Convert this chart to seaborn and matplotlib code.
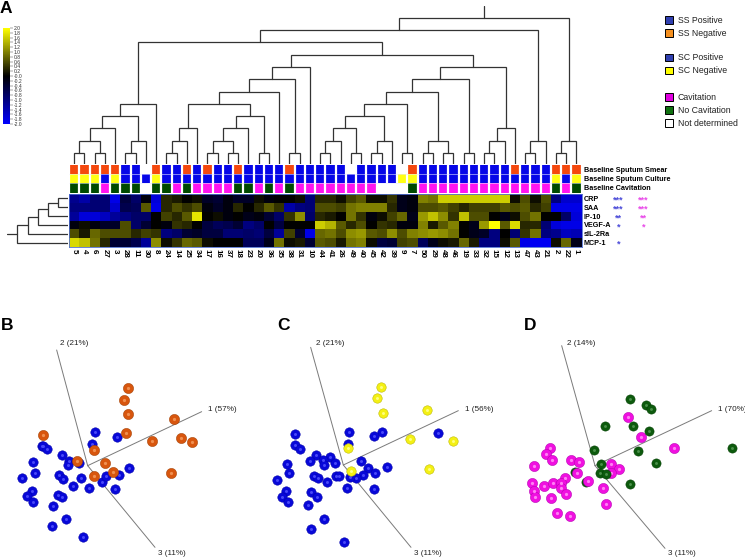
import numpy as np
import pandas as pd
import matplotlib
matplotlib.use('Agg')
import matplotlib.pyplot as plt
from matplotlib.colors import ListedColormap
from matplotlib.patches import Patch
import seaborn as sns

W, H = 745, 558

sample_ids = [5, 4, 6, 27, 3, 28, 11, 30, 8, 24, 14, 25, 34, 17, 16, 37, 18, 23, 20, 36,
              35, 38, 31, 10, 44, 41, 26, 49, 40, 45, 42, 39, 9, 7, 50, 29, 48, 46, 19, 33,
              32, 15, 12, 13, 47, 43, 21, 2, 22, 1]
markers = ['CRP', 'SAA', 'IP-10', 'VEGF-A', 'sIL-2Ra', 'MCP-1']

crp = [-1.1, -1.3, -.9, -.9, -1.8, -.5, -.8, -.1, -1.7, .3, .2, 0, .1, -.3, -.4, -.1, -.3, -.3, .1, -.1,
       0, 0, .1, -.9, .3, .3, .1, .5, .7, .1, .1, .4, -.2, -.1, 1, .9, 1.6, 1.6, 1.6, 1.6,
       1.6, 1.6, 1.6, .1, .6, .1, .6, -1, -1.6, -1.6]
saa = [-1, -1, -.9, -.9, -1.6, -.6, -.7, .7, -1.8, .3, .6, .4, .6, -.1, -.3, -.1, .3, 0, .3, .7,
       .4, -1.3, -1, -.9, .6, .6, .5, .9, 1, 1, 1, .3, -.2, -.1, .6, .6, .7, .5, .3, .5,
       .5, .5, .7, .6, .7, .3, .5, -1.8, -1.8, -1.8]
ip10 = [-1.2, -1.7, -1.7, -1.5, -1.2, -1, -.8, -.8, 0, .5, .3, .7, 1.8, 0, .1, -.1, 0, -.2, -.1, -.4,
        -.8, .4, 1.1, -.8, .3, .2, 0, .9, .4, -.1, .1, .5, .8, -.2, 1.2, 1.5, 1.1, .4, 1.5, .6,
        .6, 0, -.2, .1, .6, .9, 0, 0, -.8, -1.7]
vegf = [-.1, .1, -.1, -.3, -.3, .6, -.8, -.4, 0, -.1, .4, .3, 0, -.5, -.7, -.6, -.4, -1, -.8, 0,
        -.5, 0, 0, 0, 1.6, 1.4, .7, .3, .6, 0, .4, .3, -.1, -.1, 1, .2, .7, 1, 0, -.2,
        1.2, 2, .7, 1.7, .3, .3, -.9, -1.7, -1.8, -1.8]
sil2 = [.6, .2, .8, .6, .6, .6, .3, .5, .4, -1, -.8, -.4, -.3, -.5, -.5, -.9, -.9, -.8, -.9, -.5,
        -1.2, .5, -.4, -1.8, .8, .9, .6, 1.1, 1.2, .7, .6, 1.1, .6, 1, 1.1, 1.2, 1.1, .9, 0, -.2,
        -.3, -1, 0, -.9, .4, .9, -1, -1.1, -1.5, -1.4]
mcp1 = [1.7, 1.5, .9, .3, -.4, -.4, -.6, -1.2, 1.1, .1, .4, .8, .7, .1, 0, 0, 0, -.7, -.7, -.2,
        .9, .1, .2, -.4, .7, .6, .2, .9, 1, .1, -.5, -.4, .5, .6, -.7, -.2, .1, .2, .8, .2,
        -1, -1, .1, .7, -1.8, -1.9, -1.9, .1, .8, -.2]

# P/N = positive/negative, C/G = cavitation/none, - = not determined
smear = 'NNNNNPP-NP' 'PNPNPPNPPP' 'PNPPPPP-PP' 'PP-NPPPPPP' 'PPPNPPPNNN'
culture = 'NNNPNPPPNP' 'PPPPPPPPPP' 'PPPPPPPPPP' 'PPNNPPPPPP' 'PPPPPPPNPN'
cavitation = 'GGGCGGG-GG' 'CGCCCCGGCG' 'CGCCCCCCCC' '---GCCCCCC' 'CCCCCCCGCG'
annot_rows = ['Baseline Sputum Smear', 'Baseline Sputum Culture', 'Baseline Cavitation']

sig_ss = ['***', '***', '**', '*', '', '*']
sig_cav = ['***', '***', '**', '*', '', '']

# column tree: (merge level, left, right), leaves are sample ids
col_levels = [0, 11, 23.5, 36, 48, 60.5, 72.5, 85, 97.5, 109.5, 122, 134, 146.5]
col_tree = (12,
            (11,
             (10,
              (5, (4, (3, (2, (1, 5, 4), (1, 6, 27)), 3), (2, (1, 28, 11), 30)), 8),
              (9,
               (8,
                (7,
                 (6,
                  (5, (3, (2, (1, 24, 14), 25), 34),
                   (4, (3, (2, (1, 17, 16), (1, 37, 18)), 23), (1, 20, 36))),
                  35),
                 (1, 38, 31)),
                10),
               (8,
                (7,
                 (6,
                  (5, (4, (3, (2, (1, 44, 41), 26), (1, 49, 40)), (2, (1, 45, 42), 39)), (1, 9, 7)),
                  (2, (1, 50, 29), (1, 48, 46))),
                 (1, 19, 33)),
                (3, (2, (1, 32, 15), 12), 13)))),
             (2, (1, 47, 43), 21)),
            (2, (1, 2, 22), 1))
row_levels = [0, 10, 20, 30, 40, 51]
row_tree = (5, (4, (3, (2, (1, 'CRP', 'SAA'), 'IP-10'), 'VEGF-A'), 'sIL-2Ra'), 'MCP-1')

# panel B, in crop units
b_axes_x = [170, 605, 465]
b_axes_y = [150, 335, 742]
b_origin = (263, 497)
b_labels = ['2 (21%)', '1 (57%)', '3 (11%)']
b_label_x = [180, 625, 475]
b_pos_x = [284, 352, 276, 127, 130, 142, 185, 99, 207, 237, 205, 106, 65, 177, 190, 243, 219, 268, 306, 318,
           357, 387, 345, 96, 80, 99, 174, 186, 160, 199, 155, 249]
b_pos_y = [396, 410, 431, 438, 437, 448, 466, 486, 484, 488, 494, 518, 533, 525, 536, 533, 557, 564, 547, 528,
           526, 505, 567, 574, 587, 607, 584, 592, 618, 656, 678, 711]
b_neg_x = [385, 373, 384, 378, 128, 522, 544, 577, 457, 283, 232, 316, 340, 283, 513]
b_neg_y = [264, 301, 343, 400, 404, 356, 415, 425, 424, 449, 482, 489, 517, 529, 520]

# panel C
c_axes_x = [182, 625, 483]
c_axes_y = [142, 332, 742]
c_origin = (280, 495)
c_labels = ['2 (21%)', '1 (56%)', '3 (11%)']
c_label_x = [197, 645, 493]
c_pos_x = [296, 395, 371, 136, 134, 150, 294, 199, 241, 180, 219, 255, 223, 112, 117, 81, 333, 354, 376, 410,
           338, 318, 300, 193, 205, 230, 258, 268, 290, 371, 107, 95, 114, 183, 202, 175, 223, 182, 283, 563]
c_pos_y = [395, 396, 407, 403, 435, 446, 431, 464, 472, 482, 480, 489, 495, 491, 518, 541, 484, 505, 518, 502,
           525, 533, 530, 527, 533, 546, 529, 527, 565, 568, 572, 590, 607, 575, 590, 614, 657, 686, 725, 400]
c_neg_x = [394, 381, 399, 530, 479, 610, 295, 304, 537]
c_neg_y = [260, 294, 340, 331, 416, 424, 443, 513, 506]

# panel D
d_axes_x = [200, 650, 510]
d_axes_y = [137, 332, 745]
d_origin = (300, 497)
d_labels = ['2 (14%)', '1 (70%)', '3 (11%)']
d_label_x = [215, 668, 520]
d_cav_x = [398, 439, 536, 166, 152, 170, 118, 229, 251, 347, 373, 348, 247, 209, 280, 111, 147, 174, 197, 197,
           117, 120, 212, 168, 325, 333, 186, 226]
d_cav_y = [351, 411, 444, 445, 462, 479, 498, 480, 485, 492, 506, 520, 520, 535, 544, 548, 557, 550, 550, 563,
           572, 592, 583, 595, 565, 612, 638, 648]
d_back_x = [241, 272]
d_back_y = [515, 546]
d_none_x = [405, 453, 468, 331, 414, 461, 296, 428, 484, 318, 314, 332, 405, 711]
d_none_y = [298, 315, 326, 378, 378, 392, 450, 454, 488, 493, 518, 522, 553, 443]

sns.set_theme(style='white')
plt.rcParams['font.family'] = ['Liberation Sans', 'DejaVu Sans']
plt.rcParams['text.color'] = 'black'
plt.rcParams['xtick.color'] = 'black'
plt.rcParams['ytick.color'] = 'black'

BLUE = '#0606e8'
fig = plt.figure(figsize=(W / 100, H / 100), dpi=100, facecolor='white')


def px_axes(x0, y0, x1, y1):
    return fig.add_axes([x0 / W, 1 - y1 / H, (x1 - x0) / W, (y1 - y0) / H])


def draw_tree(ax, node, pos, levels, horizontal=False):
    # returns (position, height) of the node
    if not isinstance(node, tuple):
        return pos[node], 0
    level, left, right = node
    h = levels[level]
    p0, h0 = draw_tree(ax, left, pos, levels, horizontal)
    p1, h1 = draw_tree(ax, right, pos, levels, horizontal)
    xs, ys = [p0, p0, p1, p1], [h0, h, h, h1]
    if horizontal:
        xs, ys = ys, xs
    ax.plot(xs, ys, color='#333333', lw=0.9, solid_joinstyle='miter')
    return (p0 + p1) / 2, h


hm_x0, hm_x1 = 69, 581.6

# heatmap
ax_hm = px_axes(hm_x0, 194, hm_x1, 247)
ax_cb = px_axes(3, 28, 10, 124)
df = pd.DataFrame([crp, saa, ip10, vegf, sil2, mcp1], index=markers, columns=sample_ids)
heat_cmap = sns.blend_palette(['#0000ff', '#000000', '#ffff00'], as_cmap=True)
cb_ticks = np.round(np.arange(-2, 2.01, 0.2), 1)
sns.heatmap(df, ax=ax_hm, cmap=heat_cmap, vmin=-2, vmax=2, cbar_ax=ax_cb,
            cbar_kws={'ticks': cb_ticks}, xticklabels=True, yticklabels=True)
ax_hm.set_xlabel('')
ax_hm.set_ylabel('')
ax_hm.yaxis.tick_right()
ax_hm.tick_params(axis='y', length=0, pad=1.5, labelrotation=0)
ax_hm.tick_params(axis='x', length=0, pad=1.5)
for t in ax_hm.get_yticklabels():
    t.set_fontsize(5.2)
    t.set_fontweight('bold')
for t in ax_hm.get_xticklabels():
    t.set_fontsize(5.8)
    t.set_rotation(-90)
    t.set_fontweight('bold')
for s in ax_hm.spines.values():
    s.set_visible(True)
    s.set_color('#5070d0')
    s.set_linewidth(0.6)

ax_cb.tick_params(axis='y', length=2, width=0.3, pad=0.8, labelsize=3.6, colors='#333333')
ax_cb.set_yticklabels([f'{v:.1f}' for v in cb_ticks])
ax_hm.collections[0].colorbar.outline.set_visible(False)

# significance stars
for i, (a, b) in enumerate(zip(sig_ss, sig_cav)):
    fig.text(618.5 / W, 1 - (200.3 + i * 8.8) / H, a, color='#4a4ad8', fontsize=6.5, fontweight='bold',
             ha='center', va='center')
    fig.text(643.5 / W, 1 - (200.3 + i * 8.8) / H, b, color='#e84ae8', fontsize=6.5, fontweight='bold',
             ha='center', va='center')

# annotation strip
code_map = [{'-': 0, 'P': 1, 'N': 2}, {'-': 0, 'P': 1, 'N': 3}, {'-': 0, 'C': 4, 'G': 5}]
annot = pd.DataFrame([[m[c] for c in row] for m, row in zip(code_map, [smear, culture, cavitation])],
                     index=annot_rows, columns=sample_ids)
strip_cmap = ListedColormap(['white', BLUE, '#f4480e', '#ffff14', '#ff14f0', '#004a00'])
ax_an = px_axes(hm_x0, 165, hm_x1, 192.5)
sns.heatmap(annot, ax=ax_an, cmap=strip_cmap, vmin=-0.5, vmax=5.5, cbar=False,
            xticklabels=False, yticklabels=True)
ax_an.vlines(np.arange(len(sample_ids) + 1), 0, 3, color='white', lw=1.6)
ax_an.hlines([1, 2], 0, len(sample_ids), color='#e8e8ff', lw=0.4)
ax_an.set_xlabel('')
ax_an.set_ylabel('')
ax_an.yaxis.tick_right()
ax_an.tick_params(axis='y', length=0, pad=1.5, labelrotation=0)
for t in ax_an.get_yticklabels():
    t.set_fontsize(5.2)
    t.set_fontweight('bold')

# dendrograms
ax_dc = px_axes(hm_x0, 6, hm_x1, 164)
col_pos = {s: i + 0.5 for i, s in enumerate(sample_ids)}
root_x, root_h = draw_tree(ax_dc, col_tree, col_pos, col_levels)
ax_dc.plot([root_x, root_x], [root_h, 158], color='#333333', lw=0.9)
ax_dc.set_xlim(0, len(sample_ids))
ax_dc.set_ylim(0, 158)
ax_dc.axis('off')

ax_dr = px_axes(7, 194, 68, 247)
row_pos = {m: i + 0.5 for i, m in enumerate(markers)}
root_y, root_h = draw_tree(ax_dr, row_tree, row_pos, row_levels, horizontal=True)
ax_dr.plot([root_h, 61], [root_y, root_y], color='#333333', lw=0.9)
ax_dr.set_xlim(61, 0)
ax_dr.set_ylim(len(markers), 0)
ax_dr.axis('off')


# legend blocks
def key_legend(entries, top):
    handles = [Patch(facecolor=c, edgecolor='black', linewidth=0.7, label=t) for t, c in entries]
    fig.legend(handles=handles, loc='upper left', bbox_to_anchor=(665 / W, 1 - top / H), frameon=False,
               fontsize=6.3, handlelength=0.92, handleheight=0.92, handletextpad=0.55,
               labelspacing=0.45, borderpad=0, borderaxespad=0, labelcolor='#222222')


key_legend([('SS Positive', '#3040b0'), ('SS Negative', '#f59020')], 16)
key_legend([('SC Positive', '#3040b0'), ('SC Negative', '#ffff00')], 53.5)
key_legend([('Cavitation', '#e000e0'), ('No Cavitation', '#107010'), ('Not determined', 'white')], 93)


# PCA panels
def spheres(ax, xs, ys, color, light, edge, size):
    sns.scatterplot(x=xs, y=ys, ax=ax, color=color, edgecolor=edge, linewidth=0.35, s=size, legend=False, zorder=3)
    sns.scatterplot(x=xs, y=ys, ax=ax, color=light, linewidth=0, s=size * 0.1, legend=False, zorder=3)


def pca_panel(x0, letter, letter_x, axes_x, axes_y, origin, labels, label_x):
    ax = px_axes(x0, 300, x0 + 250, 558)
    ax.set_xlim(0, 750)
    ax.set_ylim(774, 0)
    ax.axis('off')
    for ex, ey, lab, lx, ly in zip(axes_x, axes_y, labels, label_x, [130, 328, 760]):
        ax.plot([origin[0], ex], [origin[1], ey], color='#7a7a7a', lw=0.7, zorder=1)
        ax.text(lx, ly, lab, fontsize=5.9, color='#222222', ha='left', va='center')
    fig.text(letter_x / W, 1 - 318 / H, letter, fontsize=12.5, fontweight='bold', color='black', ha='left', va='top')
    return ax


ax_b = pca_panel(0, 'B', 1, b_axes_x, b_axes_y, b_origin, b_labels, b_label_x)
spheres(ax_b, b_pos_x, b_pos_y, '#0808d8', '#4848f8', '#0000a8', 46)
spheres(ax_b, b_neg_x, b_neg_y, '#d8560e', '#f09050', '#9e3c00', 54)

ax_c = pca_panel(250, 'C', 277, c_axes_x, c_axes_y, c_origin, c_labels, c_label_x)
spheres(ax_c, c_pos_x, c_pos_y, '#0808d8', '#4848f8', '#0000a8', 46)
spheres(ax_c, c_neg_x, c_neg_y, '#f4f014', '#ffff80', '#b8b400', 46)

ax_d = pca_panel(495, 'D', 524, d_axes_x, d_axes_y, d_origin, d_labels, d_label_x)
spheres(ax_d, d_back_x, d_back_y, '#0d5a0d', '#4a904a', '#003c00', 44)
spheres(ax_d, d_cav_x, d_cav_y, '#f010e0', '#ff80f4', '#b000b0', 54)
spheres(ax_d, d_none_x, d_none_y, '#0d5a0d', '#4a904a', '#003c00', 44)

fig.text(0, 1 - 1 / H, 'A', fontsize=12.5, fontweight='bold', color='black', ha='left', va='top')

fig.savefig('out.png', dpi=100)
